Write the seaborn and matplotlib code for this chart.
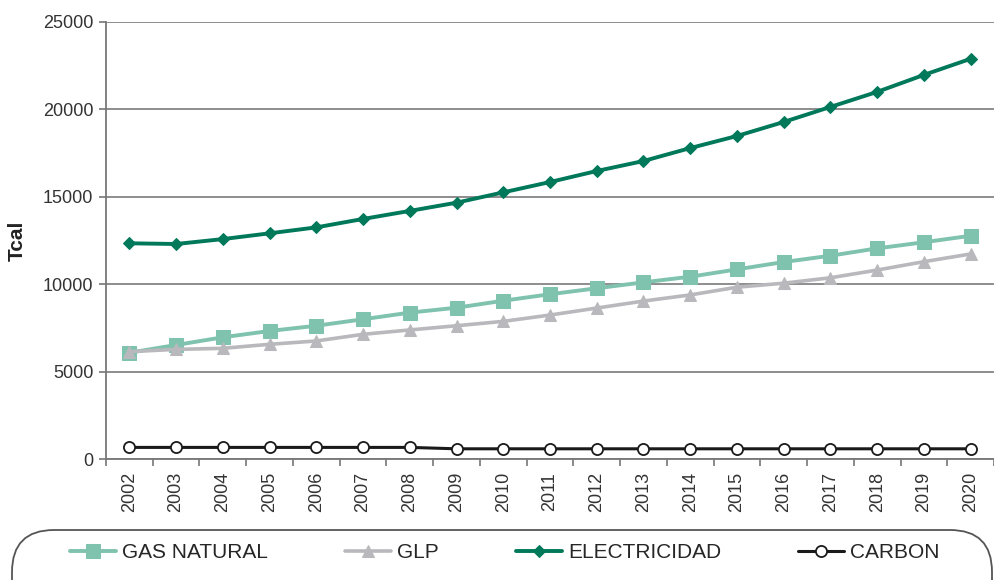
import numpy as np
import pandas as pd
import matplotlib
matplotlib.use("Agg")
import matplotlib.pyplot as plt
from matplotlib.patches import FancyBboxPatch
from matplotlib.ticker import FixedLocator, MultipleLocator
import seaborn as sns

# Consumo final por fuente, 2002-2020 (Tcal)
years = [str(y) for y in range(2002, 2021)]
gas_natural = [6090, 6530, 6970, 7330, 7630, 8000, 8380, 8660, 9060, 9430,
               9770, 10110, 10430, 10850, 11270, 11630, 12050, 12400, 12770]
glp = [6150, 6280, 6340, 6570, 6760, 7140, 7390, 7630, 7880, 8240,
       8640, 9040, 9390, 9830, 10060, 10370, 10810, 11290, 11730]
electricidad = [12340, 12300, 12580, 12910, 13250, 13730, 14190, 14660, 15250, 15840,
                16470, 17040, 17780, 18470, 19270, 20130, 20990, 21960, 22880]
carbon = [680, 680, 680, 680, 680, 680, 680, 600, 600, 600,
          600, 600, 600, 600, 600, 600, 600, 600, 600]

series = ["GAS NATURAL", "GLP", "ELECTRICIDAD", "CARBON"]
values = [gas_natural, glp, electricidad, carbon]

sns.set_theme(style="white")
plt.rcParams["font.family"] = ["Liberation Sans", "DejaVu Sans"]

fig = plt.figure(figsize=(9.94, 5.8), dpi=100)
ax = fig.add_axes([0.1066, 0.2081, 0.8934, 0.7545])

pos = np.arange(len(years))
styles = {
    "GAS NATURAL": dict(color="#7fc3ae", marker="s", markersize=9.5, lw=2.8,
                        markeredgecolor="#7fc3ae"),
    "GLP": dict(color="#b9b9bd", marker="^", markersize=8.5, lw=2.6,
                markeredgecolor="#b9b9bd"),
    "ELECTRICIDAD": dict(color="#00785a", marker="D", markersize=6.5, lw=2.8,
                         markeredgecolor="#00785a"),
    "CARBON": dict(color="#1a1a1a", marker="o", markersize=8, lw=2.2,
                   markerfacecolor="white", markeredgecolor="#1a1a1a",
                   markeredgewidth=1.3),
}

for name, vals in zip(series, values):
    st = dict(styles[name])
    sns.lineplot(x=pos, y=vals, ax=ax, label=name, **st)

ax.set_xlim(-0.5, len(years) - 0.5)
ax.set_ylim(0, 25000)
ax.yaxis.set_major_locator(MultipleLocator(5000))
ax.grid(axis="y", color="#858585", lw=1.3)
ax.set_axisbelow(True)

ax.set_xticks(pos)
ax.set_xticklabels(years, rotation=90, fontsize=13, color="#333333")
ax.xaxis.set_minor_locator(FixedLocator(np.arange(-0.5, len(years), 1.0)))
ax.tick_params(axis="x", which="major", length=0, pad=9)
ax.tick_params(axis="x", which="minor", length=5, width=1.2, color="#777777",
               direction="out", bottom=True)
ax.tick_params(axis="y", length=5, width=1.2, color="#777777", direction="out",
               left=True, labelsize=13, labelcolor="#333333", pad=4)

for side in ["top", "right"]:
    ax.spines[side].set_visible(False)
for side in ["left", "bottom"]:
    ax.spines[side].set_color("#777777")
    ax.spines[side].set_linewidth(1.3)

ax.set_xlabel("")
ax.set_ylabel("Tcal", fontsize=15, fontweight="bold", color="#222222", labelpad=12)

handles, labels = ax.get_legend_handles_labels()
ax.get_legend().remove()

# Rounded frame around the legend row
frame = FancyBboxPatch((0.12, -0.45), 9.80, 0.95,
                       boxstyle="round,pad=0,rounding_size=0.42",
                       transform=fig.dpi_scale_trans, facecolor="white",
                       edgecolor="#555555", lw=1.3, clip_on=False)
fig.patches.append(frame)

fig.legend(handles, labels, loc="center", bbox_to_anchor=(0.508, 0.047),
           ncol=4, frameon=False, fontsize=15, handlelength=2.2,
           handletextpad=0.3, columnspacing=3.7)

fig.savefig("out.png", dpi=100, facecolor="white")
